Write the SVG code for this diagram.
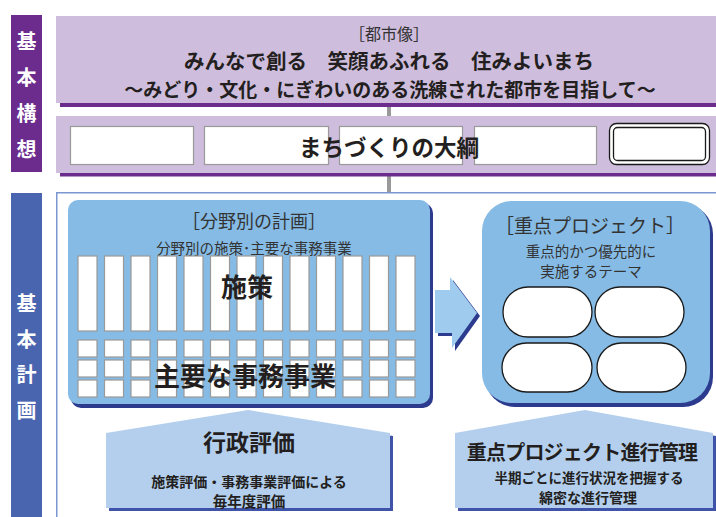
<svg xmlns="http://www.w3.org/2000/svg" width="716" height="517" viewBox="0 0 716 517">
<style>
text{font-family:"Noto Sans CJK JP","Noto Sans",sans-serif;text-anchor:middle;}
.b{font-weight:700;fill:#231f20;}
.l{font-weight:400;fill:#333;}
.side{font-weight:700;fill:#fff;font-size:20px;}
.wr{fill:#fff;stroke:#9a9a9a;stroke-width:1.2;}
.ov{fill:#fff;stroke:#1a1a1a;stroke-width:1.3;}
.conn{fill:#999;}
</style>
<rect width="716" height="517" fill="#fff"/>

<g id="side-kihonkoso">
<rect x="11" y="15" width="31" height="157" fill="#6b2c8e"/>
<text class="side" x="26.5" y="49">基</text>
<text class="side" x="26.5" y="85">本</text>
<text class="side" x="26.5" y="121">構</text>
<text class="side" x="26.5" y="157">想</text>
</g>

<g id="side-kihonkeikaku">
<rect x="11" y="193" width="31" height="324" fill="#4a65b0"/>
<text class="side" x="26.5" y="311">基</text>
<text class="side" x="26.5" y="347">本</text>
<text class="side" x="26.5" y="382">計</text>
<text class="side" x="26.5" y="418">画</text>
</g>

<g id="connectors">
<rect class="conn" x="387" y="107" width="4" height="9"/>
<rect class="conn" x="387" y="176" width="4" height="16"/>
</g>

<g id="toshizo">
<rect x="60" y="103" width="656" height="4" fill="#6b2c8e"/>
<rect x="56" y="16" width="660" height="87" fill="#cfbddd"/>
<text class="l" x="389" y="40" font-size="16">［都市像］</text>
<text class="b" x="389" y="69" font-size="20.5">みんなで創る　笑顔あふれる　住みよいまち</text>
<text class="b" x="390" y="97" font-size="19">〜みどり・文化・にぎわいのある洗練された都市を目指して〜</text>
</g>

<g id="taiko">
<rect x="60" y="173" width="656" height="3.5" fill="#6b2c8e"/>
<rect x="56" y="116" width="660" height="57" fill="#cfbddd"/>
<rect class="wr" x="70.5" y="126.5" width="123" height="38"/>
<rect class="wr" x="204.5" y="126.5" width="124" height="38"/>
<rect class="wr" x="339.5" y="126.5" width="123" height="38"/>
<rect class="wr" x="474.5" y="126.5" width="122" height="38"/>
<rect x="609.5" y="123.5" width="100" height="41" rx="7" fill="#fff" stroke="#1a1a1a" stroke-width="1.3"/>
<rect x="613.5" y="127.5" width="92" height="33" rx="4" fill="#fff" stroke="#1a1a1a" stroke-width="1.3"/>
<text class="b" x="389" y="156" font-size="22.5">まちづくりの大綱</text>
</g>

<g id="keikaku-frame">
<rect x="56.75" y="192.75" width="662" height="330" fill="#fff" stroke="#7b97d2" stroke-width="1.5"/>
</g>

<g id="bunya">
<rect x="71" y="203" width="362" height="205" rx="10" fill="#2d3b8e"/>
<rect x="68" y="200" width="362" height="204" rx="10" fill="#85bbe5"/>
<text class="l" x="254" y="228" font-size="18">［分野別の計画］</text>
<text class="l" x="254" y="254" font-size="14.5">分野別の施策･主要な事務事業</text>
<g id="columns">
<rect class="wr" x="78" y="256" width="19" height="75"/><rect class="wr" x="104.5" y="256" width="19" height="75"/><rect class="wr" x="131" y="256" width="19" height="75"/><rect class="wr" x="157.5" y="256" width="19" height="75"/><rect class="wr" x="184" y="256" width="19" height="75"/><rect class="wr" x="210.5" y="256" width="19" height="75"/><rect class="wr" x="237" y="256" width="19" height="75"/><rect class="wr" x="263.5" y="256" width="19" height="75"/><rect class="wr" x="290" y="256" width="19" height="75"/><rect class="wr" x="316.5" y="256" width="19" height="75"/><rect class="wr" x="343" y="256" width="19" height="75"/><rect class="wr" x="369.5" y="256" width="19" height="75"/><rect class="wr" x="396" y="256" width="19" height="75"/>
</g>
<g id="cells">
<rect class="wr" x="78" y="340" width="19" height="17"/><rect class="wr" x="104.5" y="340" width="19" height="17"/><rect class="wr" x="131" y="340" width="19" height="17"/><rect class="wr" x="157.5" y="340" width="19" height="17"/><rect class="wr" x="184" y="340" width="19" height="17"/><rect class="wr" x="210.5" y="340" width="19" height="17"/><rect class="wr" x="237" y="340" width="19" height="17"/><rect class="wr" x="263.5" y="340" width="19" height="17"/><rect class="wr" x="290" y="340" width="19" height="17"/><rect class="wr" x="316.5" y="340" width="19" height="17"/><rect class="wr" x="343" y="340" width="19" height="17"/><rect class="wr" x="369.5" y="340" width="19" height="17"/><rect class="wr" x="396" y="340" width="19" height="17"/>
<rect class="wr" x="78" y="360" width="19" height="17"/><rect class="wr" x="104.5" y="360" width="19" height="17"/><rect class="wr" x="131" y="360" width="19" height="17"/><rect class="wr" x="157.5" y="360" width="19" height="17"/><rect class="wr" x="184" y="360" width="19" height="17"/><rect class="wr" x="210.5" y="360" width="19" height="17"/><rect class="wr" x="237" y="360" width="19" height="17"/><rect class="wr" x="263.5" y="360" width="19" height="17"/><rect class="wr" x="290" y="360" width="19" height="17"/><rect class="wr" x="316.5" y="360" width="19" height="17"/><rect class="wr" x="343" y="360" width="19" height="17"/><rect class="wr" x="369.5" y="360" width="19" height="17"/><rect class="wr" x="396" y="360" width="19" height="17"/>
<rect class="wr" x="78" y="380" width="19" height="17"/><rect class="wr" x="104.5" y="380" width="19" height="17"/><rect class="wr" x="131" y="380" width="19" height="17"/><rect class="wr" x="157.5" y="380" width="19" height="17"/><rect class="wr" x="184" y="380" width="19" height="17"/><rect class="wr" x="210.5" y="380" width="19" height="17"/><rect class="wr" x="237" y="380" width="19" height="17"/><rect class="wr" x="263.5" y="380" width="19" height="17"/><rect class="wr" x="290" y="380" width="19" height="17"/><rect class="wr" x="316.5" y="380" width="19" height="17"/><rect class="wr" x="343" y="380" width="19" height="17"/><rect class="wr" x="369.5" y="380" width="19" height="17"/><rect class="wr" x="396" y="380" width="19" height="17"/>
</g>
<text class="b" x="247" y="297" font-size="26">施策</text>
<text class="b" x="245" y="386" font-size="26">主要な事務事業</text>
</g>

<g id="arrow">
<polygon points="438,293 453,293 453,280 480,316 455,351 455,336 438,336" fill="#2d3b8e"/>
<polygon points="435,290 450,290 450,277 477,313 452,348 452,333 435,333" fill="#9ecbee"/>
</g>

<g id="juten">
<rect x="485" y="204" width="228" height="203" rx="30" fill="#2d3b8e"/>
<rect x="482" y="201" width="228" height="202" rx="30" fill="#85bbe5"/>
<text class="l" x="590" y="233" font-size="19">［重点プロジェクト］</text>
<text class="l" x="591" y="257" font-size="14.5">重点的かつ優先的に</text>
<text class="l" x="591" y="277" font-size="14.5">実施するテーマ</text>
<rect class="ov" x="503" y="287" width="89" height="50" rx="25"/>
<rect class="ov" x="595" y="287" width="89" height="50" rx="25"/>
<rect class="ov" x="502" y="343" width="90" height="49" rx="24.5"/>
<rect class="ov" x="597" y="343" width="89" height="49" rx="24.5"/>
</g>

<g id="gyosei-hyoka">
<polygon points="251,413 393,436 393,511 109,511 109,436" fill="#3f54a8"/>
<polygon points="248,410 390,433 390,508 106,508 106,433" fill="#b4cfee"/>
<text class="b" x="249" y="451" font-size="23">行政評価</text>
<text class="b" x="249" y="487" font-size="14">施策評価・事務事業評価による</text>
<text class="b" x="249" y="507" font-size="14.5">毎年度評価</text>
</g>

<g id="juten-kanri">
<polygon points="588,413 716,436 716,511 458,511 458,436" fill="#3f54a8"/>
<polygon points="585,410 713,433 713,508 455,508 455,433" fill="#b4cfee"/>
<text class="b" x="582" y="460" font-size="20" letter-spacing="-0.8">重点プロジェクト進行管理</text>
<text class="b" x="589" y="483" font-size="13.5">半期ごとに進行状況を把握する</text>
<text class="b" x="588" y="503" font-size="14">綿密な進行管理</text>
</g>
</svg>
